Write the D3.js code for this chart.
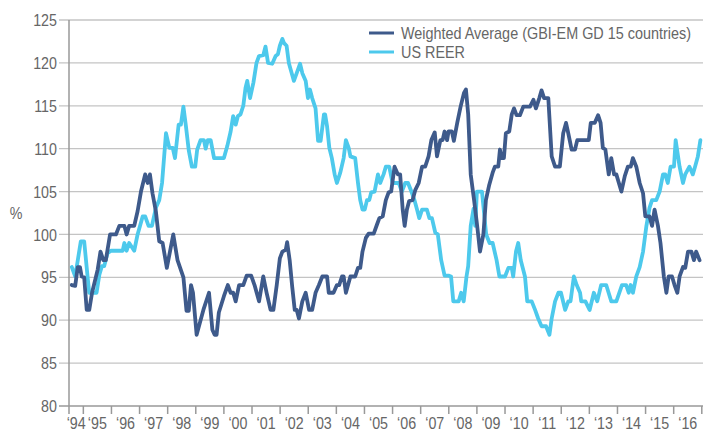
<!DOCTYPE html>
<html>
<head>
<meta charset="utf-8">
<script src="https://cdn.jsdelivr.net/npm/d3@7"></script>
<style>
  html, body { margin: 0; padding: 0; background: #fff; }
  svg { display: block; }
  text { font-family: 'Liberation Sans', Arial, sans-serif; fill: #666; }
</style>
</head>
<body>
<svg id="chart" width="703" height="432"></svg>
<script>
// ---- data (decimal years, index values in %) ----
const waYears = [1994.59,1994.71,1994.80,1994.88,1994.94,1995.03,1995.12,1995.21,1995.31,1995.51,1995.61,1995.71,1995.80,1995.95,1996.16,1996.28,1996.46,1996.54,1996.63,1996.81,1996.93,1997.05,1997.20,1997.29,1997.37,1997.46,1997.58,1997.70,1997.82,1997.97,1998.20,1998.35,1998.56,1998.67,1998.75,1998.83,1998.90,1999.03,1999.27,1999.47,1999.59,1999.67,1999.74,1999.82,2000.00,2000.14,2000.24,2000.33,2000.42,2000.54,2000.69,2000.81,2000.97,2001.09,2001.25,2001.40,2001.52,2001.66,2001.76,2001.88,2001.99,2002.08,2002.20,2002.25,2002.34,2002.43,2002.52,2002.59,2002.67,2002.79,2002.91,2003.03,2003.14,2003.26,2003.38,2003.50,2003.67,2003.73,2003.90,2004.02,2004.10,2004.20,2004.26,2004.34,2004.50,2004.67,2004.77,2004.85,2004.93,2005.05,2005.15,2005.33,2005.44,2005.53,2005.65,2005.76,2005.86,2005.95,2006.07,2006.19,2006.27,2006.36,2006.43,2006.51,2006.59,2006.71,2006.81,2006.93,2007.05,2007.16,2007.28,2007.38,2007.50,2007.58,2007.70,2007.78,2007.85,2007.94,2007.99,2008.11,2008.18,2008.30,2008.42,2008.54,2008.61,2008.69,2008.78,2008.90,2009.01,2009.11,2009.23,2009.32,2009.44,2009.56,2009.64,2009.76,2009.82,2009.88,2009.96,2010.03,2010.15,2010.24,2010.32,2010.41,2010.53,2010.65,2010.89,2011.01,2011.10,2011.22,2011.30,2011.39,2011.54,2011.66,2011.78,2011.95,2012.07,2012.17,2012.25,2012.37,2012.49,2012.57,2012.98,2013.05,2013.19,2013.31,2013.40,2013.48,2013.57,2013.69,2013.78,2013.88,2013.96,2014.14,2014.26,2014.37,2014.47,2014.55,2014.67,2014.79,2014.91,2014.99,2015.14,2015.23,2015.32,2015.44,2015.53,2015.65,2015.74,2015.82,2015.94,2016.03,2016.13,2016.21,2016.33,2016.41,2016.51,2016.63,2016.72,2016.80,2016.92];
const waValues = [94.1,94,96.2,96.2,95.1,95,91.2,91.2,93.2,95.9,98,97,97,100,100,101,101,100,101,101,102.7,105,107,106,107,104.8,102.7,99.2,99,96.1,100,97,95,91.1,91.1,94.1,93.2,88.3,91.2,93.2,88.9,88.3,88.3,90.9,92.8,94.1,93.2,93.2,92.2,94.1,94.1,95.2,95.2,94.1,92.2,95.1,93.2,91.2,91.2,94.1,97.2,98,98.2,99.1,97,93.9,91.2,91.2,90.2,92.2,93.2,91.2,91.2,93.2,94.1,95.1,95.1,93.2,93.2,94.1,94.1,95.1,95.1,93.2,95.1,95.1,96.1,96.1,98,99.6,100.1,100.1,101.1,101.9,102.1,104,104.9,105,107.9,107,107,102.9,101,102.9,103.9,104,105.2,106,107.9,107.9,109.1,111,111.9,109.1,111,111,112,111,112,112,110.9,113,114.9,116.5,116.9,114,107,104,101,98,100,104,105.8,107.2,107.9,107.9,109.9,108.9,108.9,111.8,112,114,114.7,113.9,113.9,114.9,114.9,115.7,114.7,115.9,116.8,115.9,115.9,109.1,107.9,107.9,111.8,113,111.8,109.9,109.9,111,111,113,113,113.9,113,110.1,109.9,107,108.9,107,107,105,106.8,107.9,107.9,108.9,107.9,106,104.8,102.1,102.1,101,102.9,101,99,95.1,93.2,95.1,95.1,94.1,93.2,95.1,96.2,96.1,98,98,97,98,97];

const reerYears = [1994.59,1994.71,1994.91,1995.03,1995.15,1995.21,1995.47,1995.57,1995.66,1995.74,1995.86,1995.98,1996.40,1996.46,1996.54,1996.63,1996.81,1996.93,1997.11,1997.20,1997.32,1997.44,1997.58,1997.70,1997.80,1997.94,1998.06,1998.18,1998.26,1998.39,1998.47,1998.56,1998.65,1998.75,1998.86,1998.98,1999.05,1999.17,1999.29,1999.35,1999.43,1999.53,1999.65,2000.00,2000.12,2000.24,2000.33,2000.42,2000.50,2000.59,2000.69,2000.77,2000.83,2000.93,2001.05,2001.16,2001.25,2001.40,2001.48,2001.57,2001.72,2001.84,2001.92,2001.99,2002.08,2002.14,2002.23,2002.31,2002.49,2002.59,2002.71,2002.79,2002.91,2002.99,2003.06,2003.14,2003.26,2003.35,2003.44,2003.56,2003.60,2003.67,2003.75,2003.84,2003.94,2004.02,2004.14,2004.26,2004.34,2004.44,2004.50,2004.67,2004.77,2004.85,2004.93,2005.01,2005.09,2005.17,2005.24,2005.36,2005.48,2005.56,2005.68,2005.76,2005.88,2006.00,2006.22,2006.33,2006.45,2006.55,2006.67,2006.78,2006.87,2006.95,2007.05,2007.22,2007.31,2007.40,2007.52,2007.61,2007.73,2007.85,2007.99,2008.08,2008.16,2008.35,2008.44,2008.53,2008.63,2008.69,2008.78,2008.88,2008.94,2009.00,2009.18,2009.33,2009.45,2009.56,2009.70,2009.80,2010.00,2010.12,2010.24,2010.29,2010.39,2010.47,2010.56,2010.71,2010.79,2010.95,2011.07,2011.18,2011.30,2011.46,2011.58,2011.66,2011.78,2011.90,2011.99,2012.14,2012.25,2012.33,2012.45,2012.55,2012.67,2012.71,2012.86,2013.01,2013.16,2013.28,2013.42,2013.60,2013.78,2013.96,2014.16,2014.31,2014.40,2014.47,2014.55,2014.67,2014.79,2014.91,2015.03,2015.14,2015.23,2015.38,2015.50,2015.62,2015.70,2015.79,2015.89,2016.01,2016.07,2016.21,2016.33,2016.41,2016.56,2016.68,2016.76,2016.86,2016.95];
const reerValues = [96.2,95.1,99.2,99.2,95.1,93.2,93.2,95.3,96.3,96.3,97.8,98.1,98.1,99,98.1,99,98.1,100,102.1,102.1,101,101,103.1,104,106,111.8,110.1,110.1,108.9,112.8,112.8,114.9,112.6,109.8,107.9,107.9,109.9,111,111,110,111,111,108.9,108.9,110.3,112,113.8,112.8,113.8,114,115,117.1,117.9,115.9,117.7,120,120.8,120.9,121.9,120,119.9,120.8,121,122,122.8,122.3,122,120,117.9,118.8,119.9,118.8,117.9,115.9,116.9,115.9,114.7,110.9,110.9,114,114,112.6,110.1,108.9,107,106,107.2,108.9,111,110.1,109.1,108.9,106,104,102.9,102.9,104,104,104.9,105,107,106,107,107.9,107.9,106,106,105,106,106,105,104,102.9,101.9,102.9,102.9,101.9,101.9,100.2,100,97,95.2,95.2,95.1,92.2,92.2,93.2,92.2,95.1,96.3,101,103,101,105,105,100,99,99,97,95.1,95.1,96.1,96.1,95.1,98,99,97,95.1,92.2,92.2,91.2,90.2,89.3,89.3,88.3,90.2,92.2,93.2,93.2,91.2,92.2,92.2,95.1,94.1,93.2,92.2,92.2,91.2,93.2,92.2,94.1,94.1,92.2,92.2,94.1,94.1,93.2,94.1,93.2,95.1,96.2,98,101,103.1,104,104,105,107,107,106,107.9,107.9,111,107.9,106,107,107.9,107,107.9,109.1,111];

const yTicks = [80, 85, 90, 95, 100, 105, 110, 115, 120, 125];
const xLabelYears = d3.range(1994, 2017); // '94 ... '16
const seriesNames = ["Weighted Average (GBI-EM GD 15 countries)", "US REER"];
const seriesColors = ["#3e5a8b", "#4dc9ec"];

// ---- layout ----
const svg = d3.select("#chart");
const mLeft = 69, mRight = 701.8, mTop = 20, mBottom = 406;
const xStart = 1994.49, xEnd = 2017.0;
const squeeze = 0.84; // condensed look

const x = d3.scaleLinear().domain([xStart, xEnd]).range([mLeft, mRight]);
const y = d3.scaleLinear().domain([80, 125]).range([mBottom, mTop]);

// gridlines (extend left as tick marks)
svg.append("g").selectAll("line").data(yTicks.filter(d => d > 80)).join("line")
  .attr("x1", mLeft - 10).attr("x2", 703)
  .attr("y1", d => y(d)).attr("y2", d => y(d))
  .attr("stroke", "#c4c4c4").attr("stroke-width", 1.3);

// y axis labels
svg.append("g").selectAll("text").data(yTicks).join("text")
  .attr("transform", d => `translate(57,${y(d)}) scale(${squeeze},1)`)
  .attr("dy", "0.36em")
  .attr("text-anchor", "end").style("font-size", "17px")
  .text(d => d);

svg.append("text").attr("transform", `translate(16,213) scale(${squeeze},1)`).attr("dy", "0.36em")
  .attr("text-anchor", "middle").style("font-size", "17px").text("%");

// axes lines
svg.append("line").attr("x1", mLeft).attr("x2", mLeft).attr("y1", mTop).attr("y2", mBottom)
  .attr("stroke", "#999").attr("stroke-width", 1.5);
svg.append("line").attr("x1", mLeft - 10).attr("x2", 703).attr("y1", mBottom).attr("y2", mBottom)
  .attr("stroke", "#999").attr("stroke-width", 1.5);

// x ticks at year boundaries
const tickYears = [xStart].concat(d3.range(1995, 2018));
svg.append("g").selectAll("line").data(tickYears).join("line")
  .attr("x1", d => x(d)).attr("x2", d => x(d))
  .attr("y1", mBottom).attr("y2", mBottom + 8)
  .attr("stroke", "#999").attr("stroke-width", 1.5);

// x labels centred in each year
svg.append("g").selectAll("text").data(xLabelYears).join("text")
  .attr("transform", d => `translate(${(x(Math.max(d, xStart)) + x(d + 1)) / 2},429) scale(${squeeze},1)`)
  .attr("text-anchor", "middle").style("font-size", "17px")
  .text(d => "\u2018" + String(d % 100).padStart(2, "0"));

// lines
const line = d3.line().x(d => x(d[0])).y(d => y(d[1]));
const reerData = reerYears.map((t, i) => [t, reerValues[i]]);
const waData = waYears.map((t, i) => [t, waValues[i]]);

svg.append("path").datum(reerData).attr("d", line)
  .attr("fill", "none").attr("stroke", seriesColors[1]).attr("stroke-width", 3.8)
  .attr("stroke-linejoin", "round").attr("stroke-linecap", "round");
svg.append("path").datum(waData).attr("d", line)
  .attr("fill", "none").attr("stroke", seriesColors[0]).attr("stroke-width", 3.8)
  .attr("stroke-linejoin", "round").attr("stroke-linecap", "round");

// legend
const lg = svg.append("g");
seriesNames.forEach((name, i) => {
  const ly = 33 + i * 19;
  lg.append("line").attr("x1", 369).attr("x2", 394).attr("y1", ly).attr("y2", ly)
    .attr("stroke", seriesColors[i]).attr("stroke-width", 3);
  lg.append("text").attr("transform", `translate(401,${ly}) scale(0.9,1)`).attr("dy", "0.36em")
    .style("font-size", "16px").text(name);
});
</script>
</body>
</html>
